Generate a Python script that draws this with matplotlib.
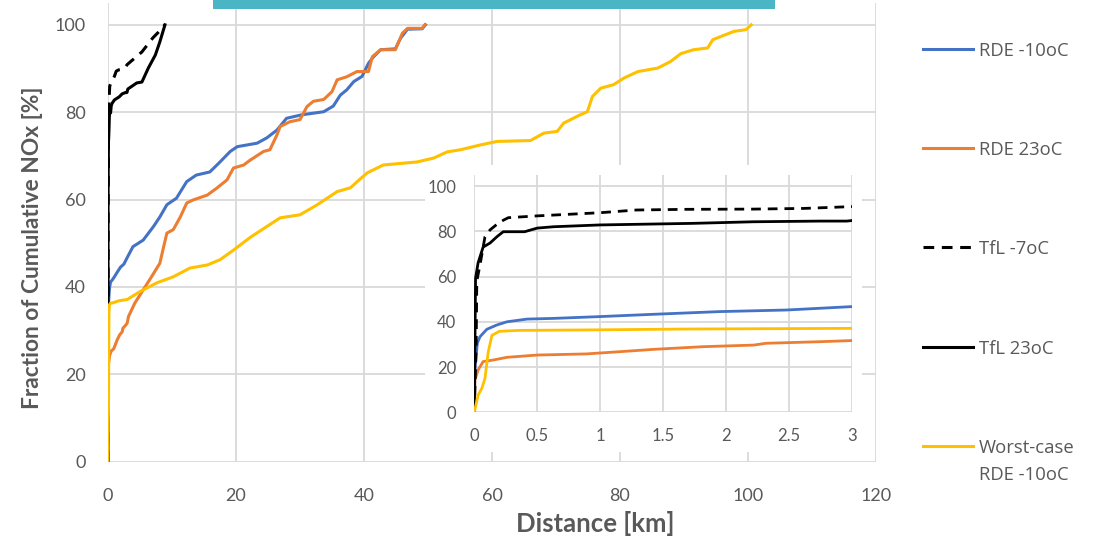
import numpy as np
import matplotlib
matplotlib.use("Agg")
import matplotlib.pyplot as plt
from matplotlib.lines import Line2D
from matplotlib.patches import Rectangle
from matplotlib.ticker import FuncFormatter

plt.rcParams['font.family'] = ['Lato', 'DejaVu Sans']

# Cumulative NOx fraction [%] against distance [km]
rde_m10_km = [0, 0.005, 0.024, 0.045, 0.1, 0.18, 0.26, 0.42, 0.63, 1.0, 1.42, 1.95, 2.48, 3.0,
              3.9, 5.5, 7.1, 8.1, 9.2, 10.7, 12.3, 13.8, 15.9, 17.3, 19.1, 20.2, 23.3, 24.8,
              26.4, 27.9, 30.3, 33.7, 35.2, 36.3, 37.3, 38.4, 39.7, 40.7, 41.5, 42.6, 44.9,
              45.7, 46.8, 49.1, 49.6]
rde_m10_pct = [0, 18.7, 30.5, 33.4, 36.7, 38.6, 40.0, 41.2, 41.5, 42.3, 43.3, 44.5, 45.2, 46.7,
               49.2, 50.7, 53.8, 56.0, 58.8, 60.3, 64.1, 65.6, 66.3, 68.3, 71.0, 72.1, 72.9, 74.1,
               75.9, 78.6, 79.4, 80.1, 81.4, 83.9, 85.1, 87.0, 88.2, 91.2, 92.7, 94.3, 94.5,
               96.9, 99.0, 99.1, 100]

rde_23_km = [0, 0.005, 0.03, 0.07, 0.15, 0.26, 0.5, 0.89, 1.16, 1.42, 1.82, 2.22, 2.32, 2.75, 3.0,
             3.2, 4.2, 5.5, 6.8, 8.1, 8.7, 9.2, 10.2, 11.3, 12.3, 13.3, 15.5, 17.0, 18.6, 19.6,
             21.2, 22.2, 24.3, 25.3, 26.4, 26.9, 28.4, 30.0, 31.1, 32.1, 33.7, 35.0, 35.8, 37.3,
             38.9, 40.7, 41.3, 42.6, 44.9, 46.0, 46.8, 49.1, 49.5]
rde_23_pct = [0, 14.3, 18.7, 22.4, 23.1, 24.3, 25.3, 25.8, 26.8, 27.8, 29.0, 29.7, 30.5, 31.2, 31.7,
              33.2, 36.3, 39.3, 42.3, 45.4, 49.2, 52.3, 53.1, 56.0, 59.2, 59.9, 61.0, 62.6, 64.5, 67.2,
              67.9, 69.0, 71.0, 71.4, 74.8, 76.7, 77.8, 78.3, 81.3, 82.5, 82.9, 84.7, 87.4, 88.1,
              89.3, 89.3, 92.7, 94.3, 94.3, 98.1, 99.2, 99.2, 100]

tfl_m7_km = [0, 0.015, 0.02, 0.045, 0.085, 0.125, 0.2, 0.27, 0.5, 1.0, 1.29, 1.69, 2.22, 2.62, 3.0,
             5.3, 7.0, 7.8, 8.9]
tfl_m7_pct = [0, 30, 58, 65, 77.6, 80.6, 84.0, 86.0, 86.8, 88.2, 89.4, 89.7, 89.8, 90.1, 90.9,
              93.8, 97.0, 98.2, 100]

tfl_23_km = [0, 0.005, 0.01, 0.03, 0.07, 0.125, 0.18, 0.23, 0.4, 0.5, 0.63, 1.0, 1.74, 2.22, 2.75,
             2.96, 3.1, 4.5, 5.3, 6.3, 7.4, 8.1, 8.9]
tfl_23_pct = [0, 30, 59.3, 66, 73, 74.8, 77.6, 79.8, 79.8, 81.4, 82, 82.8, 83.5, 84.2, 84.5,
              84.5, 85.3, 86.7, 86.9, 90.1, 93.1, 96.1, 100]

worst_km = [0, 0.03, 0.06, 0.085, 0.11, 0.14, 0.2, 0.36, 0.89, 1.69, 3.0, 5.0, 7.6, 10.2, 12.8,
            15.5, 17.5, 19.6, 22.2, 24.8, 26.9, 30.0, 32.7, 35.8, 37.9, 39.4, 40.5, 43.0, 48.3,
            50.9, 53.0, 55.1, 58.2, 60.8, 66.0, 68.1, 70.2, 71.2, 73.8, 74.9, 75.7, 77.0, 79.0,
            80.6, 82.8, 85.9, 87.9, 89.5, 91.5, 93.7, 94.5, 97.8, 99.7, 100.5]
worst_pct = [0, 7.6, 10.6, 15, 26.4, 34, 35.8, 36.2, 36.4, 36.8, 37.1, 38.9, 40.9, 42.3, 44.3,
             45.0, 46.2, 48.4, 51.3, 53.8, 55.8, 56.5, 58.8, 61.8, 62.7, 64.7, 66.1, 67.9, 68.6,
             69.5, 70.9, 71.4, 72.5, 73.3, 73.5, 75.2, 75.6, 77.5, 79.4, 80.1, 83.6, 85.5, 86.3,
             87.8, 89.3, 90.1, 91.6, 93.4, 94.3, 94.7, 96.6, 98.5, 98.9, 100]

labels = ['RDE -10oC', 'RDE 23oC', 'TfL -7oC', 'TfL 23oC', 'Worst-case\nRDE -10oC']

series = [
    (rde_m10_km, rde_m10_pct, '#4472C4', '-'),
    (rde_23_km, rde_23_pct, '#ED7D31', '-'),
    (tfl_m7_km, tfl_m7_pct, 'black', (0, (3.5, 2.5))),
    (tfl_23_km, tfl_23_pct, 'black', '-'),
    (worst_km, worst_pct, '#FFC000', '-'),
]

TXT = '#595959'
GRID = '#D9D9D9'
W, H = 1112, 542

fig = plt.figure(figsize=(W / 100, H / 100), dpi=100)


def px_box(x0, y0, x1, y1):
    # pixel box (top-left origin) -> figure fraction rect
    return [x0 / W, 1 - y1 / H, (x1 - x0) / W, (y1 - y0) / H]


def style_axes(ax, size, xpad, ypad):
    for s in ax.spines.values():
        s.set_visible(False)
    ax.grid(True, color=GRID, linewidth=1.3)
    ax.set_axisbelow(True)
    ax.tick_params(length=0, labelsize=size, labelcolor=TXT)
    ax.tick_params(axis='x', pad=xpad)
    ax.tick_params(axis='y', pad=ypad)


# main chart
ax = fig.add_axes(px_box(108, 3, 876, 461.5))
for km, pct, col, ls in series:
    ax.plot(km, pct, color=col, linestyle=ls, linewidth=2.2)
ax.set_xlim(0, 120)
ax.set_ylim(0, 105)
ax.set_xticks(np.arange(0, 121, 20))
ax.set_yticks(np.arange(0, 101, 20))
style_axes(ax, 13, 19, 16)

fig.text(595 / W, 1 - 523 / H, 'Distance [km]', ha='center', va='center',
         fontsize=18.5, fontweight='bold', color=TXT)
fig.text(33 / W, 1 - 248 / H, 'Fraction of Cumulative NOx [%]', ha='center', va='center',
         rotation=90, fontsize=16.4, fontweight='bold', color=TXT)

# white panel behind the zoomed inset
fig.patches.append(Rectangle((425 / W, 1 - 452 / H), (862 - 425) / W, (452 - 165) / H,
                             transform=fig.transFigure, facecolor='white',
                             edgecolor='none', zorder=1))

# inset: first 3 km
axi = fig.add_axes(px_box(474.3, 174.7, 851.7, 412.3), zorder=2)
for km, pct, col, ls in series:
    axi.plot(km, pct, color=col, linestyle=ls, linewidth=2.0)
axi.set_xlim(0, 3)
axi.set_ylim(0, 105)
axi.set_xticks(np.arange(0, 3.01, 0.5))
axi.set_yticks(np.arange(0, 101, 20))
axi.xaxis.set_major_formatter(FuncFormatter(lambda v, p: f'{v:g}'))
style_axes(axi, 12, 11, 13)
axi.set_facecolor('white')

# legend on the right, one text per line
leg_y = [49, 148, 247, 347, 446]
for (km, pct, col, ls), lab, y in zip(series, labels, leg_y):
    fig.lines.append(Line2D([923 / W, 973 / W], [1 - y / H, 1 - y / H], color=col,
                            linestyle=ls, linewidth=2.2, transform=fig.transFigure))
    for i, part in enumerate(lab.split('\n')):
        base = y + 6.6 + 27 * i
        fig.text(979 / W, 1 - base / H, part, ha='left', va='baseline', fontsize=13.3,
                 color=TXT, family=['Open Sans', 'DejaVu Sans'])

# banner strip along the top edge
fig.patches.append(Rectangle((213 / W, 1 - 9 / H), (775 - 213) / W, 9 / H,
                             transform=fig.transFigure, facecolor='#4AB5C4',
                             edgecolor='none', zorder=3))

fig.savefig('out.png', dpi=100)
